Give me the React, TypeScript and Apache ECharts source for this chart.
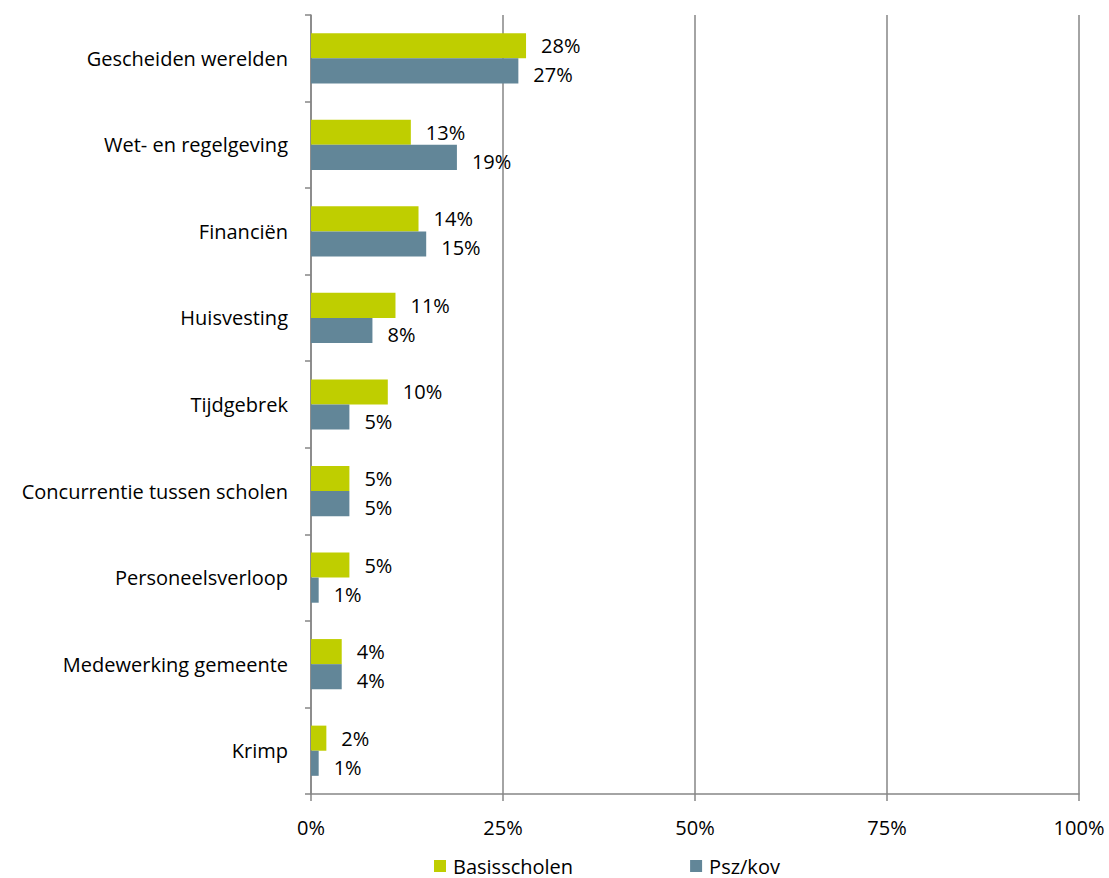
import React, { useEffect, useRef } from "react";
import * as echarts from "echarts";

const categories = [
  "Gescheiden werelden",
  "Wet- en regelgeving",
  "Financiën",
  "Huisvesting",
  "Tijdgebrek",
  "Concurrentie tussen scholen",
  "Personeelsverloop",
  "Medewerking gemeente",
  "Krimp",
];
const basisscholen = [28, 13, 14, 11, 10, 5, 5, 4, 2];
const pszKov = [27, 19, 15, 8, 5, 5, 1, 4, 1];
const seriesNames = ["Basisscholen", "Psz/kov"];
const xTicks = [0, 25, 50, 75, 100];

const FONT = "Open Sans";
const FS = 20;

export default function App() {
  const ref = useRef<HTMLDivElement>(null);
  useEffect(() => {
    const chart = echarts.init(ref.current!, null, { renderer: "svg" });
    const labelCommon = {
      show: true,
      position: "right",
      distance: 15,
      formatter: (p: any) => p.value + "%",
      color: "#000",
      fontFamily: FONT,
      fontSize: FS,
    };
    chart.setOption({
      animation: false,
      backgroundColor: "#fff",
      grid: { left: 311, right: 30, top: 15, bottom: 84, containLabel: false },
      legend: {
        left: 434,
        top: 855,
        padding: 0,
        itemWidth: 12,
        itemHeight: 12,
        itemGap: 117,
        icon: "rect",
        textStyle: { fontFamily: FONT, fontSize: FS, color: "#000", lineHeight: 22, padding: [0, 0, 0, 2] },
        data: seriesNames,
      },
      xAxis: {
        type: "value",
        min: xTicks[0],
        max: xTicks[xTicks.length - 1],
        interval: 25,
        axisLine: { show: true, lineStyle: { color: "#868686", width: 1.5 } },
        axisTick: { show: true, length: 7, lineStyle: { color: "#868686", width: 1.5 } },
        splitLine: { show: true, lineStyle: { color: "#868686", width: 1.5 } },
        axisLabel: {
          formatter: (v: number) => v + "%",
          color: "#000",
          fontFamily: FONT,
          fontSize: FS,
          margin: 23,
        },
      },
      yAxis: {
        type: "category",
        inverse: true,
        data: categories,
        axisLine: { show: true, lineStyle: { color: "#868686", width: 1.5 } },
        axisTick: { show: true, length: 6, alignWithLabel: false, lineStyle: { color: "#868686", width: 1.5 } },
        axisLabel: { color: "#000", fontFamily: FONT, fontSize: FS, margin: 23 },
        splitLine: { show: false },
      },
      series: [
        {
          name: seriesNames[0],
          type: "bar",
          data: basisscholen,
          barGap: "0%",
          barCategoryGap: "42%",
          itemStyle: { color: "#BFCE00" },
          label: { ...labelCommon },
        },
        {
          name: seriesNames[1],
          type: "bar",
          data: pszKov,
          barGap: "0%",
          barCategoryGap: "42%",
          itemStyle: { color: "#628698" },
          label: { ...labelCommon, offset: [0, 4] },
        },
      ],
    });
    return () => chart.dispose();
  }, []);
  return (
    <div
      ref={ref}
      style={{ position: "absolute", left: 0, top: 0, width: 1109, height: 878 }}
    />
  );
}
